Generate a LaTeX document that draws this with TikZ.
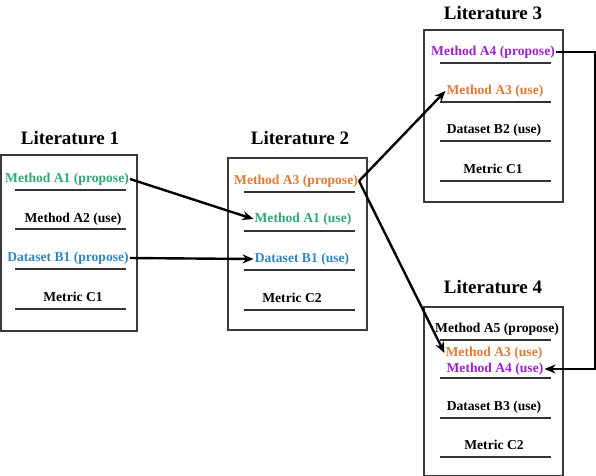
\documentclass[tikz,border=0pt]{standalone}
\usepackage{fontspec}
\setmainfont{Liberation Serif}
\usetikzlibrary{arrows.meta}
\definecolor{cgreen}{HTML}{2EAA70}
\definecolor{cblue}{HTML}{2F86C6}
\definecolor{corange}{HTML}{E07A35}
\definecolor{cpurple}{HTML}{A020CC}
\definecolor{cbox}{HTML}{3A3A3A}
\begin{document}
\begin{tikzpicture}[x=1pt,y=-1pt,
  litbox/.style={draw=cbox,line width=2.8pt},
  title/.style={font=\fontsize{19}{21}\selectfont\bfseries},
  item/.style={font=\fontsize{13.6}{15}\selectfont\bfseries,inner sep=1pt},
  uline/.style={draw=black!80,line width=1.5pt},
  arr/.style={draw=black,line width=2.4pt,-{Stealth[length=11pt,width=9pt]}}
]
\useasboundingbox (0,0) rectangle (596,475);
% boxes
\draw[litbox] (1,155) rectangle (137,331);
\draw[litbox] (228,158) rectangle (367,330);
\draw[litbox] (424,30) rectangle (563,202);
\draw[litbox] (424,307) rectangle (563,476);
% titles
\node[title] (t1) at (70,138) {Literature 1};
\node[title] (t2) at (300,138) {Literature 2};
\node[title] (t3) at (493,13) {Literature 3};
\node[title] (t4) at (493,287) {Literature 4};
% literature 1
\node[item,text=cgreen] (l1a) at (67,179) {Method A1 (propose)};
\node[item] (l1b) at (73,219) {Method A2 (use)};
\node[item,text=cblue] (l1c) at (68,258) {Dataset B1 (propose)};
\node[item] (l1d) at (73,297) {Metric C1};
\draw[uline] (15,190) -- (126,190);
\draw[uline] (15,229) -- (126,229);
\draw[uline] (15,269) -- (126,269);
\draw[uline] (15,309) -- (126,309);
% literature 2
\node[item,text=corange] (l2a) at (296,181) {Method A3 (propose)};
\node[item,text=cgreen] (l2b) at (303,219) {Method A1 (use)};
\node[item,text=cblue] (l2c) at (302,259) {Dataset B1 (use)};
\node[item] (l2d) at (292,298) {Metric C2};
\draw[uline] (244,192) -- (355,192);
\draw[uline] (244,231) -- (355,231);
\draw[uline] (244,270) -- (355,270);
\draw[uline] (244,310) -- (355,310);
% literature 3
\node[item,text=cpurple] (l3a) at (493,52) {Method A4 (propose)};
\node[item,text=corange] (l3b) at (495,91) {Method A3 (use)};
\node[item] (l3c) at (494,130) {Dataset B2 (use)};
\node[item] (l3d) at (493,169) {Metric C1};
\draw[uline] (440,63) -- (551,63);
\draw[uline] (440,102) -- (551,102);
\draw[uline] (440,141) -- (551,141);
\draw[uline] (440,181) -- (551,181);
% literature 4
\node[item] (l4a) at (497,329) {Method A5 (propose)};
\node[item,text=corange] (l4b) at (494,353) {Method A3 (use)};
\node[item,text=cpurple] (l4c) at (495,369) {Method A4 (use)};
\node[item] (l4d) at (494,407) {Dataset B3 (use)};
\node[item] (l4e) at (494,445) {Metric C2};
\draw[uline] (440,340) -- (551,340);
\draw[uline] (440,378) -- (551,378);
\draw[uline] (440,418) -- (551,418);
\draw[uline] (440,457) -- (551,457);
% connectors
\coordinate (rx) at (595,0);
\draw[arr] (l1a.east) -- (l2b.west);
\draw[arr] (l1c.east) -- (l2c.west);
\draw[arr] (l2a.east) -- (l3b.west);
\draw[arr] (l2a.east) -- (l4b.west);
\draw[arr] (l3a.east) -- (l3a.east -| rx) -- (l4c.east -| rx) -- (l4c.east);
\end{tikzpicture}
\end{document}
